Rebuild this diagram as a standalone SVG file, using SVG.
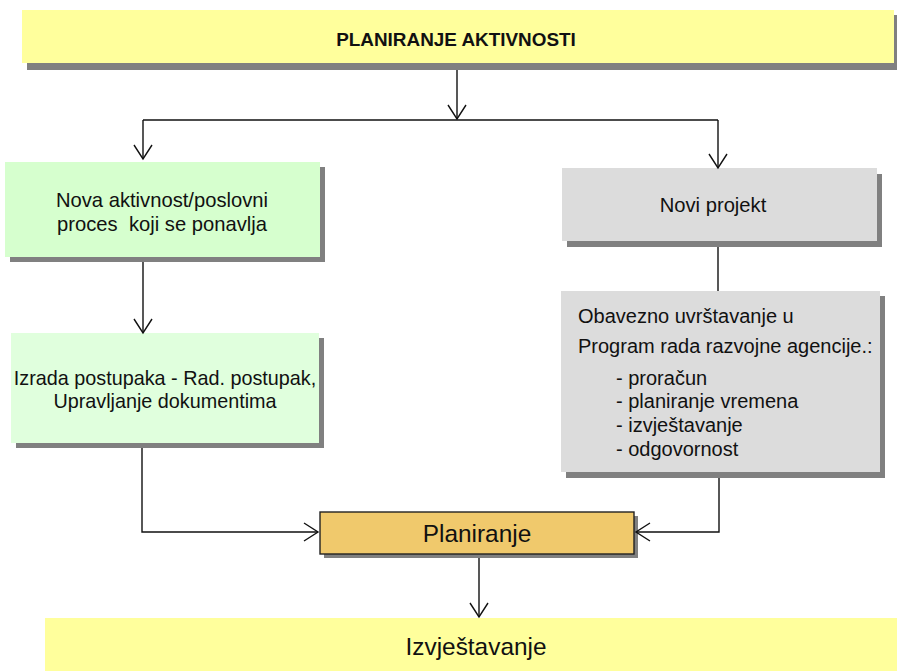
<svg xmlns="http://www.w3.org/2000/svg" width="897" height="671" viewBox="0 0 897 671">
<defs>
<style>
.sh{fill:#808080}
.t{font-family:"Liberation Sans",Arial,sans-serif;fill:#111;white-space:pre}
.c{stroke:#111;stroke-width:1.4;fill:none}
</style>
<marker id="ah" viewBox="-16 -10 18 20" markerWidth="18" markerHeight="20" refX="0" refY="0" orient="auto" markerUnits="userSpaceOnUse">
<path d="M-14,-9 L0,0 L-14,9" fill="none" stroke="#111" stroke-width="1.4"/>
</marker>
</defs>
<rect width="897" height="671" fill="#fff"/>

<g id="node-top">
<rect class="sh" x="27" y="15" width="872" height="55"/>
<rect x="22" y="10" width="872" height="53" fill="#FFFF9C"/>
<text class="t" x="456" y="46" font-size="18.9" font-weight="bold" text-anchor="middle">PLANIRANJE AKTIVNOSTI</text>
</g>

<g id="node-nova">
<rect class="sh" x="10" y="167" width="315" height="95"/>
<rect x="5" y="162" width="315" height="95" fill="#D6FFCE"/>
<text class="t" font-size="20.2" text-anchor="middle" xml:space="preserve"><tspan x="162" y="207">Nova aktivnost/poslovni</tspan><tspan x="162" y="231">proces  koji se ponavlja</tspan></text>
</g>

<g id="node-izrada">
<rect class="sh" x="16" y="338" width="308" height="110"/>
<rect x="11" y="333" width="308" height="110" fill="#E0FFDD"/>
<text class="t" font-size="19.8" text-anchor="middle"><tspan x="165" y="385">Izrada postupaka - Rad. postupak,</tspan><tspan x="165" y="408">Upravljanje dokumentima</tspan></text>
</g>

<g id="node-novi">
<rect class="sh" x="567" y="174" width="315" height="73"/>
<rect x="562" y="168" width="315" height="73" fill="#DCDCDC"/>
<text class="t" x="713" y="212" font-size="20.2" text-anchor="middle">Novi projekt</text>
</g>

<g id="node-obavezno">
<rect class="sh" x="566" y="296" width="319" height="182"/>
<rect x="561" y="291" width="319" height="181" fill="#DCDCDC"/>
<text class="t" font-size="20"><tspan x="578" y="323">Obavezno uvrštavanje u</tspan><tspan x="578" y="353">Program rada razvojne agencije.:</tspan><tspan x="616" y="385">- proračun</tspan><tspan x="616" y="408">- planiranje vremena</tspan><tspan x="616" y="432">- izvještavanje</tspan><tspan x="616" y="456">- odgovornost</tspan></text>
</g>

<g id="node-planiranje">
<rect class="sh" x="324" y="516" width="314" height="42"/>
<rect x="320" y="512" width="314" height="42" fill="#F0C96C" stroke="#222" stroke-width="1.4"/>
<text class="t" x="477" y="542" font-size="24.4" text-anchor="middle">Planiranje</text>
</g>

<g id="node-izvjestavanje">
<rect x="45" y="618" width="852" height="53" fill="#FFFF9C"/>
<text class="t" x="476" y="655" font-size="24.4" text-anchor="middle">Izvještavanje</text>
</g>

<g id="connectors">
<path class="c" d="M457,70 V119" marker-end="url(#ah)"/>
<path class="c" d="M143,120 H718"/>
<path class="c" d="M143,120 V159" marker-end="url(#ah)"/>
<path class="c" d="M718,120 V168" marker-end="url(#ah)"/>
<path class="c" d="M143,262 V333" marker-end="url(#ah)"/>
<path class="c" d="M718,247 V291"/>
<path class="c" d="M142,448 V532 H318" marker-end="url(#ah)"/>
<path class="c" d="M719,478 V532 H636" marker-end="url(#ah)"/>
<path class="c" d="M479,558 V617" marker-end="url(#ah)"/>
</g>
</svg>
